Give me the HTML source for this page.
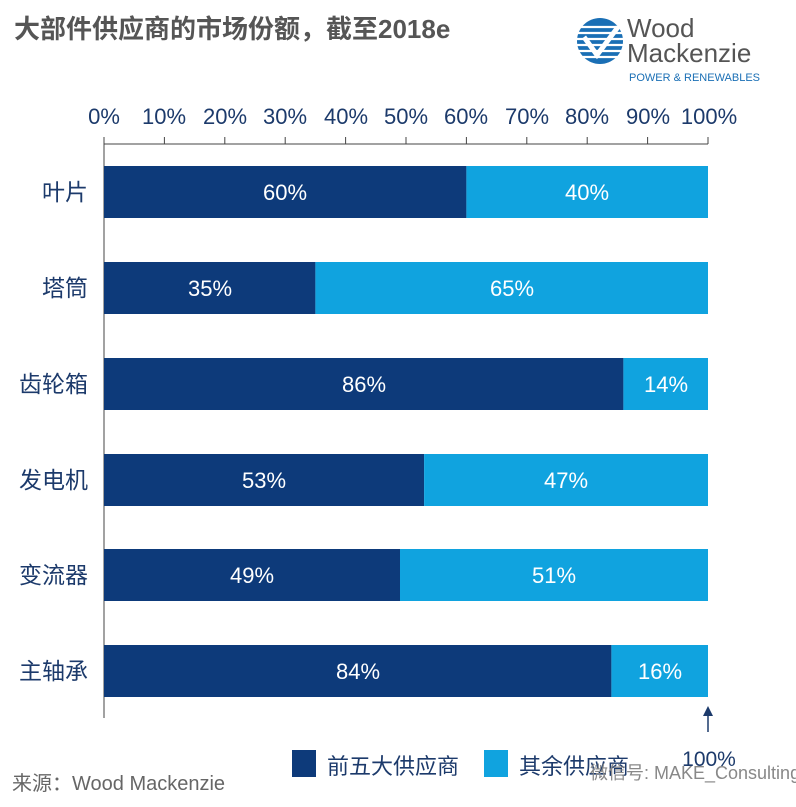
<!DOCTYPE html>
<html><head><meta charset="utf-8"><style>
body{margin:0;background:#fff;}
svg{display:block;font-family:"Liberation Sans","Noto Sans CJK SC",sans-serif;}
</style></head><body>
<svg width="796" height="807" viewBox="0 0 796 807" xmlns="http://www.w3.org/2000/svg">
<text x="14" y="38" font-size="26" font-weight="bold" fill="#555">大部件供应商的市场份额，截至2018e</text>
<!-- logo -->
<g>
<circle cx="600" cy="41" r="23" fill="#1a6fb5"/>
<g stroke="#fff" stroke-width="2.2">
<line x1="577" y1="27" x2="623" y2="27"/><line x1="577" y1="33" x2="623" y2="33"/>
<line x1="577" y1="39" x2="623" y2="39"/><line x1="577" y1="45" x2="623" y2="45"/>
<line x1="577" y1="51" x2="623" y2="51"/><line x1="577" y1="57" x2="623" y2="57"/>
</g>
<path d="M584 37 L597 55 L618 27" stroke="#fff" stroke-width="5" fill="none"/>
<text x="627" y="37" font-size="26" fill="#555">Wood</text>
<text x="627" y="62" font-size="26" fill="#555">Mackenzie</text>
<text x="629" y="81" font-size="11" fill="#1a6fb5">POWER &amp; RENEWABLES</text>
</g>
<!-- axis -->
<g fill="#1c3a6b" font-size="22" text-anchor="middle">
<text x="104" y="124">0%</text><text x="164" y="124">10%</text><text x="225" y="124">20%</text>
<text x="285" y="124">30%</text><text x="346" y="124">40%</text><text x="406" y="124">50%</text>
<text x="466" y="124">60%</text><text x="527" y="124">70%</text><text x="587" y="124">80%</text>
<text x="648" y="124">90%</text><text x="709" y="124">100%</text>
</g>
<g stroke="#444" stroke-width="1">
<line x1="104" y1="144" x2="708" y2="144"/>
<line x1="104" y1="137" x2="104" y2="718"/>
<line x1="164.4" y1="137" x2="164.4" y2="144"/><line x1="224.8" y1="137" x2="224.8" y2="144"/>
<line x1="285.2" y1="137" x2="285.2" y2="144"/><line x1="345.6" y1="137" x2="345.6" y2="144"/>
<line x1="406" y1="137" x2="406" y2="144"/><line x1="466.4" y1="137" x2="466.4" y2="144"/>
<line x1="526.8" y1="137" x2="526.8" y2="144"/><line x1="587.2" y1="137" x2="587.2" y2="144"/>
<line x1="647.6" y1="137" x2="647.6" y2="144"/><line x1="708" y1="137" x2="708" y2="144"/>
</g>
<!-- bars -->
<g font-size="22" text-anchor="middle">
<rect x="104" y="166" width="362.4" height="52" fill="#0d3a7a"/><rect x="466.4" y="166" width="241.6" height="52" fill="#10a3df"/>
<text x="285" y="200" fill="#fff">60%</text><text x="587" y="200" fill="#fff">40%</text>
<rect x="104" y="262" width="211.4" height="52" fill="#0d3a7a"/><rect x="315.4" y="262" width="392.6" height="52" fill="#10a3df"/>
<text x="210" y="296" fill="#fff">35%</text><text x="512" y="296" fill="#fff">65%</text>
<rect x="104" y="358" width="519.4" height="52" fill="#0d3a7a"/><rect x="623.4" y="358" width="84.6" height="52" fill="#10a3df"/>
<text x="364" y="392" fill="#fff">86%</text><text x="666" y="392" fill="#fff">14%</text>
<rect x="104" y="454" width="320.1" height="52" fill="#0d3a7a"/><rect x="424.1" y="454" width="283.9" height="52" fill="#10a3df"/>
<text x="264" y="488" fill="#fff">53%</text><text x="566" y="488" fill="#fff">47%</text>
<rect x="104" y="549" width="296" height="52" fill="#0d3a7a"/><rect x="400" y="549" width="308" height="52" fill="#10a3df"/>
<text x="252" y="583" fill="#fff">49%</text><text x="554" y="583" fill="#fff">51%</text>
<rect x="104" y="645" width="507.4" height="52" fill="#0d3a7a"/><rect x="611.4" y="645" width="96.6" height="52" fill="#10a3df"/>
<text x="358" y="679" fill="#fff">84%</text><text x="660" y="679" fill="#fff">16%</text>
</g>
<g font-size="23" fill="#1c3a6b" text-anchor="end">
<text x="88" y="200">叶片</text><text x="88" y="296">塔筒</text><text x="88" y="392">齿轮箱</text>
<text x="88" y="488">发电机</text><text x="88" y="583">变流器</text><text x="88" y="679">主轴承</text>
</g>
<!-- arrow -->
<line x1="708" y1="732" x2="708" y2="714" stroke="#1c3a6b" stroke-width="1.5"/>
<path d="M703 716 L708 706 L713 716Z" fill="#1c3a6b"/>
<text x="709" y="766" font-size="21" fill="#1c3a6b" text-anchor="middle">100%</text>
<!-- legend -->
<rect x="292" y="750" width="24" height="27" fill="#0d3a7a"/>
<text x="327" y="774" font-size="22" fill="#1c3a6b">前五大供应商</text>
<rect x="484" y="750" width="24" height="27" fill="#10a3df"/>
<text x="519" y="774" font-size="22" fill="#1c3a6b">其余供应商</text>
<text x="590" y="779" font-size="18" fill="#888">微信号: MAKE_Consulting</text>
<text x="12" y="790" font-size="20" fill="#666">来源：Wood Mackenzie</text>
</svg>
</body></html>
